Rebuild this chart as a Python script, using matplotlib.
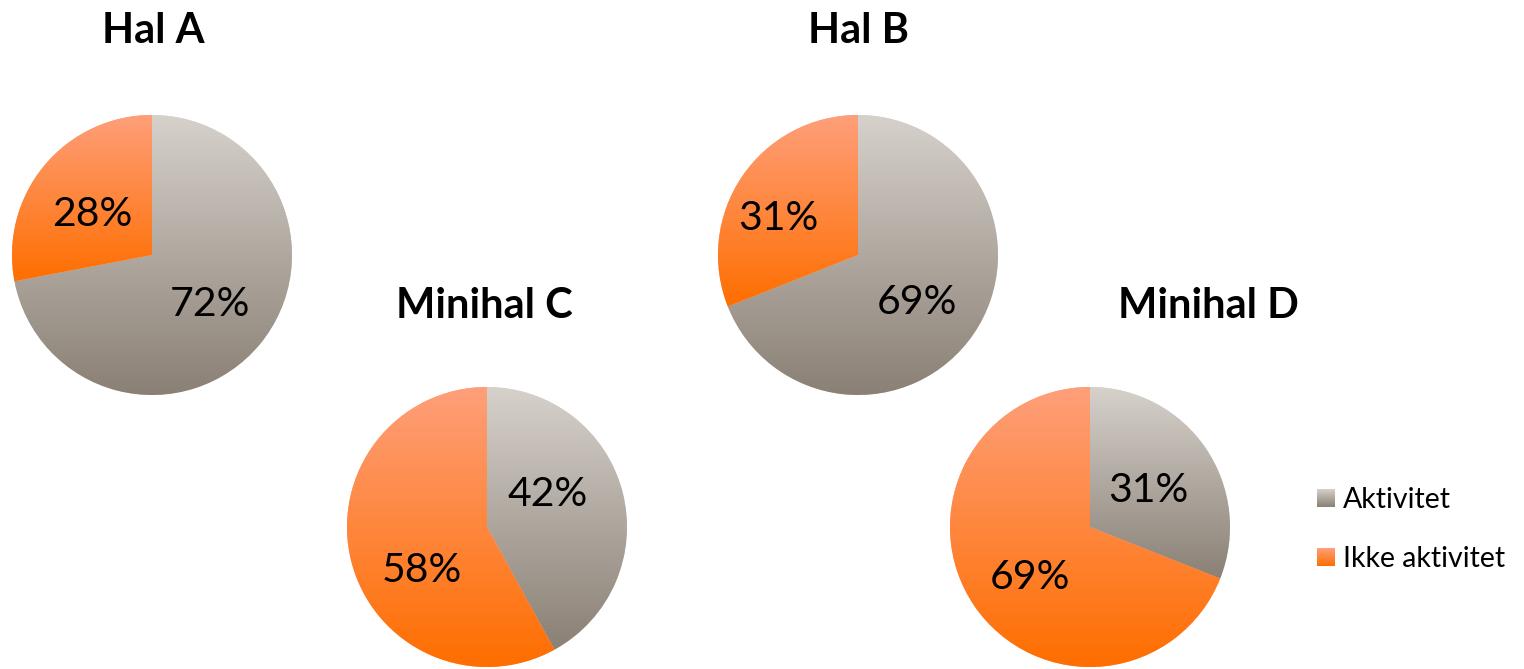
import numpy as np
import matplotlib.pyplot as plt
from matplotlib.colors import LinearSegmentedColormap

W, H = 1524, 669

categories = ["Aktivitet", "Ikke aktivitet"]
titles = ["Hal A", "Hal B", "Minihal C", "Minihal D"]
aktivitet = [72, 69, 42, 31]
ikke_aktivitet = [28, 31, 58, 69]

# layout, in pixels measured from the top-left corner
centers = [(152, 255), (858, 255), (487, 527), (1090, 527)]
radius = 140
title_pos = [(153, 43), (858, 43), (484, 318), (1208, 318)]          # baseline
label_pos = [[(210, 302), (92, 212)], [(917, 300), (778, 216)],
             [(548, 492), (422, 568)], [(1148, 488), (1030, 575)]]    # cap centre

grad_top = ["#d6d1cb", "#fe9f7a"]
grad_bot = ["#8a8075", "#ff6e00"]

plt.rcParams['font.family'] = ['Lato', 'DejaVu Sans']

fig = plt.figure(figsize=(W / 100, H / 100), dpi=100)
ax = fig.add_axes([0, 0, 1, 1])

cmaps = [LinearSegmentedColormap.from_list("g%d" % i, [grad_bot[i], grad_top[i]])
         for i in range(2)]
ramp = np.linspace(0, 1, 256).reshape(-1, 1)

for k in range(len(titles)):
    cx, cy = centers[k]
    vals = [aktivitet[k], ikke_aktivitet[k]]
    wedges, _ = ax.pie(vals, center=(cx, H - cy), radius=radius, startangle=90,
                       counterclock=False, colors=grad_top,
                       wedgeprops=dict(linewidth=0))
    # vertical gradient inside each slice
    for i, w in enumerate(wedges):
        ext = w.get_path().transformed(w.get_patch_transform()).get_extents()
        im = ax.imshow(ramp, cmap=cmaps[i], origin='lower',
                       extent=(ext.x0, ext.x1, ext.y0, ext.y1),
                       aspect='auto', zorder=2, interpolation='bilinear')
        im.set_clip_path(w)
    for i, v in enumerate(vals):
        lx, ly = label_pos[k][i]
        ax.text(lx, H - (ly + 14), "%d%%" % v, fontsize=29.5, ha='center',
                va='baseline', color='black', zorder=5)
    tx, ty = title_pos[k]
    ax.text(tx, H - ty, titles[k], fontsize=30, fontweight='bold',
            ha='center', va='baseline', zorder=5)

# legend with gradient squares
leg_y = [489, 548]
for i, name in enumerate(categories):
    y0 = H - leg_y[i] - 18
    ax.imshow(ramp, cmap=cmaps[i], origin='lower',
              extent=(1317, 1335, y0, y0 + 18), aspect='auto', zorder=2)
    ax.text(1343, H - (leg_y[i] + 19), name, fontsize=20.5, ha='left',
            va='baseline', zorder=5)

ax.set_xlim(0, W)
ax.set_ylim(0, H)
ax.set_aspect('equal')
ax.axis('off')

fig.savefig("out.png", dpi=100)
